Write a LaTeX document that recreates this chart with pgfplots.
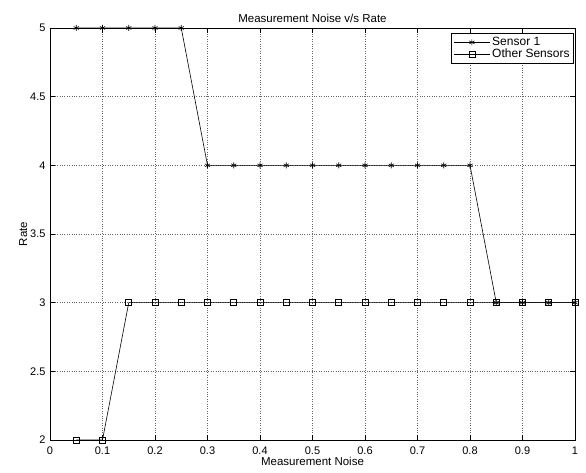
\documentclass[border=0pt]{standalone}
\usepackage{fontspec}
\setmainfont{Liberation Sans}
\usepackage{pgfplots}
\pgfplotsset{compat=1.18}
\begin{document}
\begin{tikzpicture}
\begin{axis}[
  name=ax,
  scale only axis,
  width=525pt, height=412pt,
  xmin=0, xmax=1, ymin=2, ymax=5,
  xtick={0,0.1,...,1.0},
  ytick={2,2.5,...,5},
  xticklabels={0,0.1,0.2,0.3,0.4,0.5,0.6,0.7,0.8,0.9,1},
  yticklabels={2,2.5,3,3.5,4,4.5,5},
  tick align=inside,
  tick pos=both,
  major tick length=5pt,
  grid=major,
  major grid style={black!60, dotted, line width=0.5pt},
  axis line style={black, line width=0.8pt},
  tick style={black, line width=0.6pt},
  tick label style={font=\fontsize{11}{13}\selectfont},
  xticklabel style={yshift=-3pt},
  yticklabel style={xshift=-1pt},
  title={Measurement Noise v/s Rate},
  title style={font=\fontsize{11.5}{13}\selectfont, yshift=-4pt},
  xlabel={Measurement Noise},
  ylabel={Rate},
  label style={font=\fontsize{11.5}{13}\selectfont},
  xlabel style={yshift=4pt},
  ylabel style={yshift=-4pt},
  legend style={at={(rel axis cs:1,1)}, anchor=north east, xshift=-1pt, yshift=-5pt,
    font=\fontsize{12}{14}\selectfont, draw=black, line width=0.8pt, inner sep=2pt,
    row sep=-2pt},
  legend cell align=left,
  legend image code/.code={\draw[#1,line width=0.6pt] (0pt,0pt) -- (36pt,0pt); \path[#1,mark repeat=1] plot coordinates {(18pt,0pt)};},
  clip=false,
]
\addplot[black, line width=0.6pt, mark=asterisk, mark size=3pt] coordinates {
(0.05,5)(0.10,5)(0.15,5)(0.20,5)(0.25,5)(0.30,4)(0.35,4)(0.40,4)(0.45,4)(0.50,4)
(0.55,4)(0.60,4)(0.65,4)(0.70,4)(0.75,4)(0.80,4)(0.85,3)(0.90,3)(0.95,3)(1.00,3)};
\addlegendentry{Sensor 1}
\addplot[black, line width=0.6pt, mark=square, mark size=3pt] coordinates {
(0.05,2)(0.10,2)(0.15,3)(0.20,3)(0.25,3)(0.30,3)(0.35,3)(0.40,3)(0.45,3)(0.50,3)
(0.55,3)(0.60,3)(0.65,3)(0.70,3)(0.75,3)(0.80,3)(0.85,3)(0.90,3)(0.95,3)(1.00,3)};
\addlegendentry{Other Sensors}
\end{axis}
\pgfresetboundingbox
\path ([xshift=-50pt,yshift=-33pt]ax.south west) rectangle ([xshift=11pt,yshift=28pt]ax.north east);
\end{tikzpicture}
\end{document}
